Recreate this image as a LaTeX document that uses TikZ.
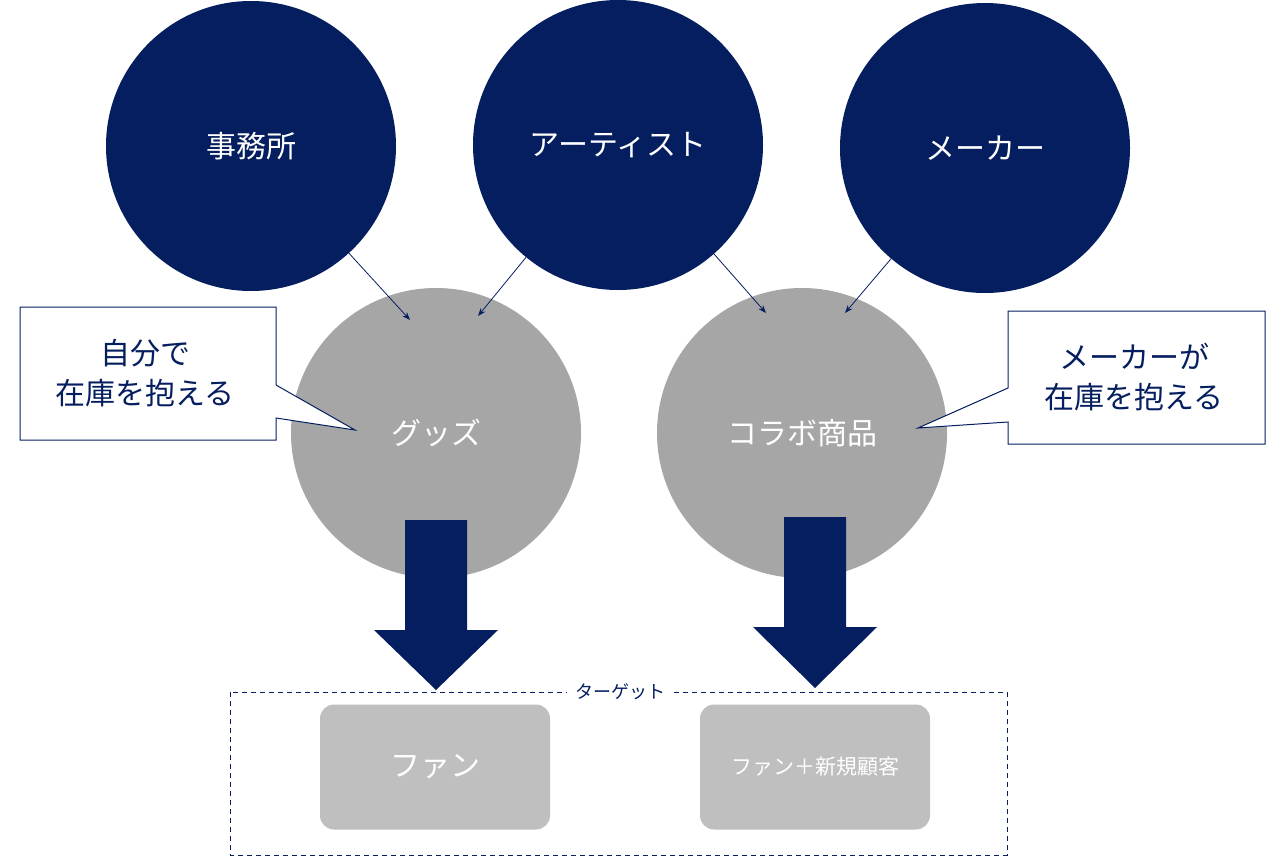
\documentclass[tikz,border=0pt]{standalone}
\usepackage{fontspec}
\setmainfont{Noto Sans CJK JP}
\usetikzlibrary{arrows.meta}
\definecolor{navy}{HTML}{041E5F}
\definecolor{midgray}{HTML}{A6A6A6}
\definecolor{lightgray}{HTML}{BFBFBF}
\tikzset{
  party/.style={circle, fill=navy, minimum size=290pt, inner sep=0pt, text=white, font=\fontsize{30}{36}\selectfont},
  item/.style={circle, fill=midgray, minimum size=290pt, inner sep=0pt, text=white, font=\fontsize{30}{36}\selectfont},
  target/.style={rounded corners=14pt, fill=lightgray, minimum width=230pt, minimum height=125pt, text=white},
  feed/.style={draw=navy, line width=0.8pt, -{Stealth[length=8pt,width=6pt]}},
  callout/.style={draw=navy, line width=1pt, fill=white},
  bigarrow/.style={fill=navy}
}
\begin{document}
\begin{tikzpicture}[x=1pt,y=-1pt]
\useasboundingbox (0,0) rectangle (1280,857);
% parties
\node[party] (office) at (251,146) {事務所};
\node[party] (artist) at (618,145) {アーティスト};
\node[party] (maker) at (985,148) {メーカー};
% products
\node[item] (goods) at (436,433) {グッズ};
\node[item] (collab) at (802,433) {コラボ商品};
% feeds
\coordinate (g1) at (410,320);
\coordinate (g2) at (478,316);
\coordinate (c1) at (766,313);
\coordinate (c2) at (845,313);
\draw[feed] (office) -- (g1);
\draw[feed] (artist) -- (g2);
\draw[feed] (artist) -- (c1);
\draw[feed] (maker) -- (c2);
% callouts
\draw[callout] (20,307) -- (276,307) -- (276,385) -- (355,430) -- (276,418) -- (276,440) -- (20,440) -- cycle;
\node[text=navy, font=\fontsize{30}{40}\selectfont, align=center] (ownstock) at (145,373) {自分で\\在庫を抱える};
\draw[callout] (1008,311) -- (1265,311) -- (1265,444) -- (1008,444) -- (1008,422) -- (918,428) -- (1008,388) -- cycle;
\node[text=navy, font=\fontsize{30}{40}\selectfont, align=center] (makerstock) at (1134,377) {メーカーが\\在庫を抱える};
% big arrows
\fill[bigarrow] (405,520) -- (467,520) -- (467,630) -- (498,630) -- (436,690) -- (374,630) -- (405,630) -- cycle;
\fill[bigarrow] (784,517) -- (846,517) -- (846,627) -- (877,627) -- (815,688) -- (753,627) -- (784,627) -- cycle;
% targets
\draw[navy, dashed, line width=1pt, dash pattern=on 5pt off 4pt] (230,692) rectangle (1007,855);
\node[fill=white, text=navy, font=\fontsize{18}{20}\selectfont, inner xsep=8pt] (tlabel) at (620,692) {ターゲット};
\node[target, font=\fontsize{30}{36}\selectfont] (fans) at (435,767) {ファン};
\node[target, font=\fontsize{21}{26}\selectfont] (newfans) at (815,767) {ファン＋新規顧客};
\end{tikzpicture}
\end{document}
